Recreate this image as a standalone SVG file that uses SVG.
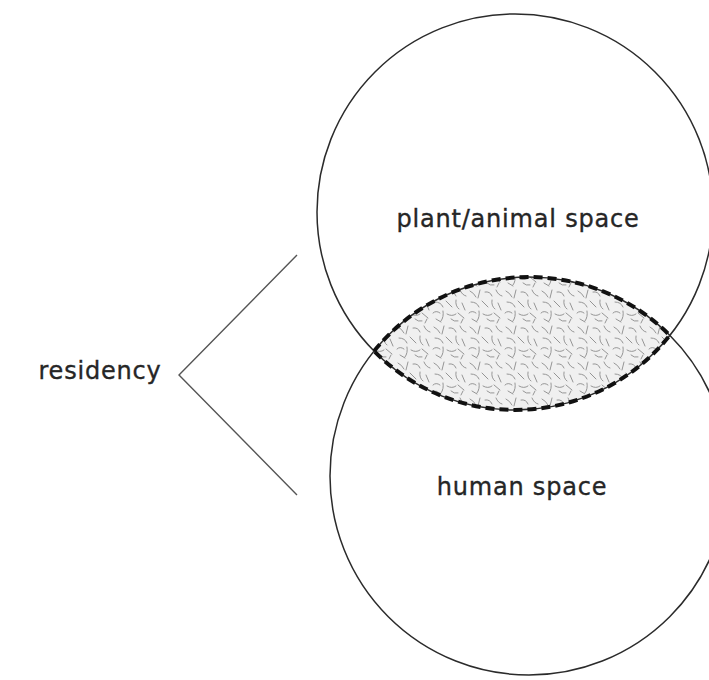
<svg xmlns="http://www.w3.org/2000/svg" width="709" height="680" viewBox="0 0 709 680">
  <style>
    .circle { fill: none; stroke: #2b2b2b; stroke-width: 1.5; }
    .lens-edge { fill: none; stroke: #111; stroke-width: 4; stroke-dasharray: 9 5; }
    .bracket { fill: none; stroke: #555; stroke-width: 1.4; }
    .label { font-family: "DejaVu Sans", Verdana, sans-serif; font-size: 24px; fill: #262626; stroke: #262626; stroke-width: 0.35; letter-spacing: 0.8px; }
    .sq { fill: none; stroke: #8a8a8a; stroke-width: 0.9; stroke-linecap: round; }
  </style>
  <defs>
    <pattern id="squiggle" x="0" y="0" width="36" height="36" patternUnits="userSpaceOnUse">
      <rect width="36" height="36" fill="#f0f0f0"/>
      <path class="sq" d="M2 3 q4 2 6 6"/>
      <path class="sq" d="M12 2 l-2 8"/>
      <path class="sq" d="M17 4 q5 -1 7 4"/>
      <path class="sq" d="M28 2 q2 5 6 6"/>
      <path class="sq" d="M3 14 q6 0 8 5"/>
      <path class="sq" d="M14 13 l6 6"/>
      <path class="sq" d="M24 12 q-1 6 3 9"/>
      <path class="sq" d="M30 15 l3 7"/>
      <path class="sq" d="M1 25 q3 -3 7 0"/>
      <path class="sq" d="M11 23 q1 6 -2 10"/>
      <path class="sq" d="M15 26 q5 3 9 0"/>
      <path class="sq" d="M26 25 l6 5"/>
      <path class="sq" d="M4 31 l5 3"/>
      <path class="sq" d="M19 31 q3 3 7 2"/>
      <path class="sq" d="M31 31 l-2 4"/>
    </pattern>
  </defs>

  <rect width="709" height="680" fill="#ffffff"/>

  <g id="overlap">
    <path d="M374.1 351.1 A199 199 0 0 1 669.8 335.4 A198 198 0 0 1 374.1 351.1 Z" fill="url(#squiggle)"/>
  </g>

  <g id="plant-animal-space">
    <circle class="circle" cx="515" cy="212" r="198"/>
    <text class="label" x="518" y="227" text-anchor="middle">plant/animal space</text>
  </g>

  <g id="human-space">
    <circle class="circle" cx="529" cy="476" r="199"/>
    <text class="label" x="522" y="495" text-anchor="middle">human space</text>
  </g>

  <g id="overlap-edge">
    <path class="lens-edge" d="M374.1 351.1 A199 199 0 0 1 669.8 335.4 A198 198 0 0 1 374.1 351.1 Z"/>
  </g>

  <g id="residency">
    <text class="label" x="100" y="379" text-anchor="middle">residency</text>
  </g>

  <g id="connectors">
    <polyline class="bracket" points="297,255 179,375 297,495"/>
  </g>
</svg>
